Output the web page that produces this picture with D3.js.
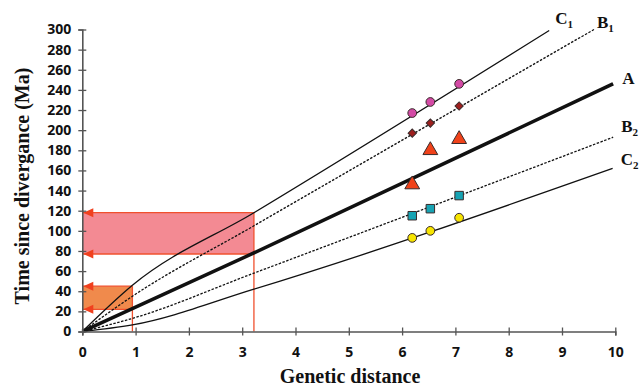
<!DOCTYPE html>
<html>
  <head>
    <meta charset="utf-8">
    <title>Genetic distance vs divergence time</title>
    <script src="https://d3js.org/d3.v7.min.js" type="text/javascript"></script>
    <style>
      body { margin: 0; background: #fff; }
      .tick text { font-family: "Open Sans", sans-serif; font-weight: bold; font-size: 14px; fill: #111; }
      .serif { font-family: "Liberation Serif", "Times New Roman", serif; font-weight: bold; fill: #111; }
    </style>
  </head>
  <body>
    <script>
      // tick labels
      var xTicks = [0, 1, 2, 3, 4, 5, 6, 7, 8, 9, 10];
      var yTicks = d3.range(0, 301, 20);

      // reference lines, points [distance, Ma]
      var lineC1 = [[0, 0], [0.94, 46], [3.22, 118], [8.76, 299]];
      var lineB1 = [[0, 0], [0.94, 35], [3.22, 105], [9.6, 300]];
      var lineA  = [[0, 0], [3.22, 78], [9.96, 246]];
      var lineB2 = [[0, 0], [0.94, 13], [3.22, 58], [9.96, 193]];
      var lineC2 = [[0, 0], [0.94, 6.5], [3.22, 42], [9.95, 162]];

      // markers
      var markerX   = [6.19, 6.53, 7.07];
      var circlesC1 = [217, 228, 246];
      var diamondsB1 = [197, 207, 224];
      var trianglesA = [146, 180, 191];
      var squaresB2 = [115, 122, 135];
      var circlesC2 = [93, 100, 113];

      // shaded ranges
      var pinkRange = [77, 118], pinkX = 3.22;
      var orangeRange = [22, 45], orangeX = 0.94;

      var w = 641, h = 387;
      var svg = d3.select("body").append("svg")
                  .attr("width", w)
                  .attr("height", h);

      var x = d3.scaleLinear().domain([0, 10]).range([82.3, 615.3]);
      var y = d3.scaleLinear().domain([0, 300]).range([331.5, 29.5]);

      var red = "#f0502e";

      // shaded boxes
      function rangeBox(r, xr, fill, stroke) {
        var g = svg.append("g");
        g.append("rect")
          .attr("x", x(0))
          .attr("y", y(r[1]))
          .attr("width", x(xr) - x(0))
          .attr("height", y(r[0]) - y(r[1]))
          .attr("fill", fill);
        g.selectAll(".hl").data(r).enter().append("line")
          .attr("x1", x(0)).attr("x2", x(xr))
          .attr("y1", function(d) { return y(d); })
          .attr("y2", function(d) { return y(d); })
          .attr("stroke", stroke).attr("stroke-width", 1.3);
        g.append("line")
          .attr("x1", x(xr)).attr("x2", x(xr))
          .attr("y1", y(r[1])).attr("y2", y(0))
          .attr("stroke", stroke).attr("stroke-width", 1.3);
        g.selectAll(".arr").data(r).enter().append("path")
          .attr("d", function(d) {
            var px = x(0) + 1, py = y(d);
            return "M" + px + "," + py + "L" + (px + 10) + "," + (py - 4.5) + "L" + (px + 10) + "," + (py + 4.5) + "Z";
          })
          .attr("fill", "#f0401e");
      }
      rangeBox(pinkRange, pinkX, "#f38a93", red);
      rangeBox(orangeRange, orangeX, "#f08a4c", red);

      // lines
      var lineGen = d3.line()
        .x(function(d) { return x(d[0]); })
        .y(function(d) { return y(d[1]); })
        .curve(d3.curveMonotoneX);

      var lines = [
        {data: lineC1, width: 1.3, dash: null},
        {data: lineB1, width: 1.3, dash: "2.5,1.5"},
        {data: lineA, width: 3.6, dash: null},
        {data: lineB2, width: 1.3, dash: "2.5,1.5"},
        {data: lineC2, width: 1.3, dash: null}
      ];
      svg.selectAll(".ref").data(lines).enter().append("path")
        .attr("class", "ref")
        .attr("d", function(d) { return lineGen(d.data); })
        .attr("fill", "none")
        .attr("stroke", "#111")
        .attr("stroke-width", function(d) { return d.width; })
        .attr("stroke-dasharray", function(d) { return d.dash; });

      // axes
      var xAxis = svg.append("g")
        .attr("transform", "translate(0," + y(0) + ")")
        .call(d3.axisBottom(x).tickValues(xTicks).tickSize(4).tickPadding(9));
      xAxis.selectAll(".tick line").attr("y1", -4).attr("y2", 4);
      xAxis.selectAll(".tick text").attr("dy", "0.9em");

      var yAxis = svg.append("g")
        .attr("transform", "translate(" + x(0) + ",0)")
        .call(d3.axisLeft(y).tickValues(yTicks).tickSize(4).tickPadding(7));
      yAxis.selectAll(".tick line").attr("x1", -4).attr("x2", 4);

      [xAxis, yAxis].forEach(function(a) {
        a.select(".domain").attr("stroke", "#555").attr("stroke-width", 1.6);
        a.selectAll(".tick line").attr("stroke", "#555").attr("stroke-width", 1.3);
      });

      // markers
      var sym = function(type, size) { return d3.symbol().type(type).size(size)(); };
      var markerSets = [
        {vals: circlesC1, type: d3.symbolCircle, size: 60, fill: "#d44aa6"},
        {vals: diamondsB1, type: d3.symbolSquare, size: 34, fill: "#9e1f1e", rot: 45},
        {vals: trianglesA, type: d3.symbolTriangle, size: 95, fill: "#f0421a"},
        {vals: squaresB2, type: d3.symbolSquare, size: 72, fill: "#17a3b3"},
        {vals: circlesC2, type: d3.symbolCircle, size: 60, fill: "#f6e400"}
      ];
      markerSets.forEach(function(s) {
        svg.selectAll(null).data(s.vals).enter().append("path")
          .attr("d", sym(s.type, s.size))
          .attr("transform", function(d, i) {
            return "translate(" + x(markerX[i]) + "," + y(d) + ")" + (s.rot ? " rotate(" + s.rot + ")" : "");
          })
          .attr("fill", s.fill)
          .attr("stroke", "#3a2a2a")
          .attr("stroke-width", 1);
      });

      // line labels
      var labels = [
        {name: "C", sub: "1", at: lineC1[lineC1.length - 1], dx: 6, dy: -7},
        {name: "B", sub: "1", at: lineB1[lineB1.length - 1], dx: 3, dy: -2},
        {name: "A", sub: "", at: lineA[lineA.length - 1], dx: 9, dy: 0},
        {name: "B", sub: "2", at: lineB2[lineB2.length - 1], dx: 8, dy: -5},
        {name: "C", sub: "2", at: lineC2[lineC2.length - 1], dx: 8, dy: -3}
      ];
      labels.forEach(function(l) {
        var t = svg.append("text").attr("class", "serif")
          .attr("x", x(l.at[0]) + l.dx)
          .attr("y", y(l.at[1]) + l.dy)
          .style("font-size", "17px")
          .text(l.name);
        if (l.sub) {
          t.append("tspan").attr("dy", 4).style("font-size", "11px").text(l.sub);
        }
      });

      // axis titles
      svg.append("text").attr("class", "serif")
        .attr("x", 350).attr("y", 383)
        .attr("text-anchor", "middle")
        .style("font-size", "20px")
        .text("Genetic distance");

      svg.append("text").attr("class", "serif")
        .attr("transform", "translate(22,186) rotate(-90)")
        .attr("text-anchor", "middle")
        .attr("dominant-baseline", "central")
        .style("font-size", "20px")
        .text("Time since divergance (Ma)");
    </script>
  </body>
</html>
